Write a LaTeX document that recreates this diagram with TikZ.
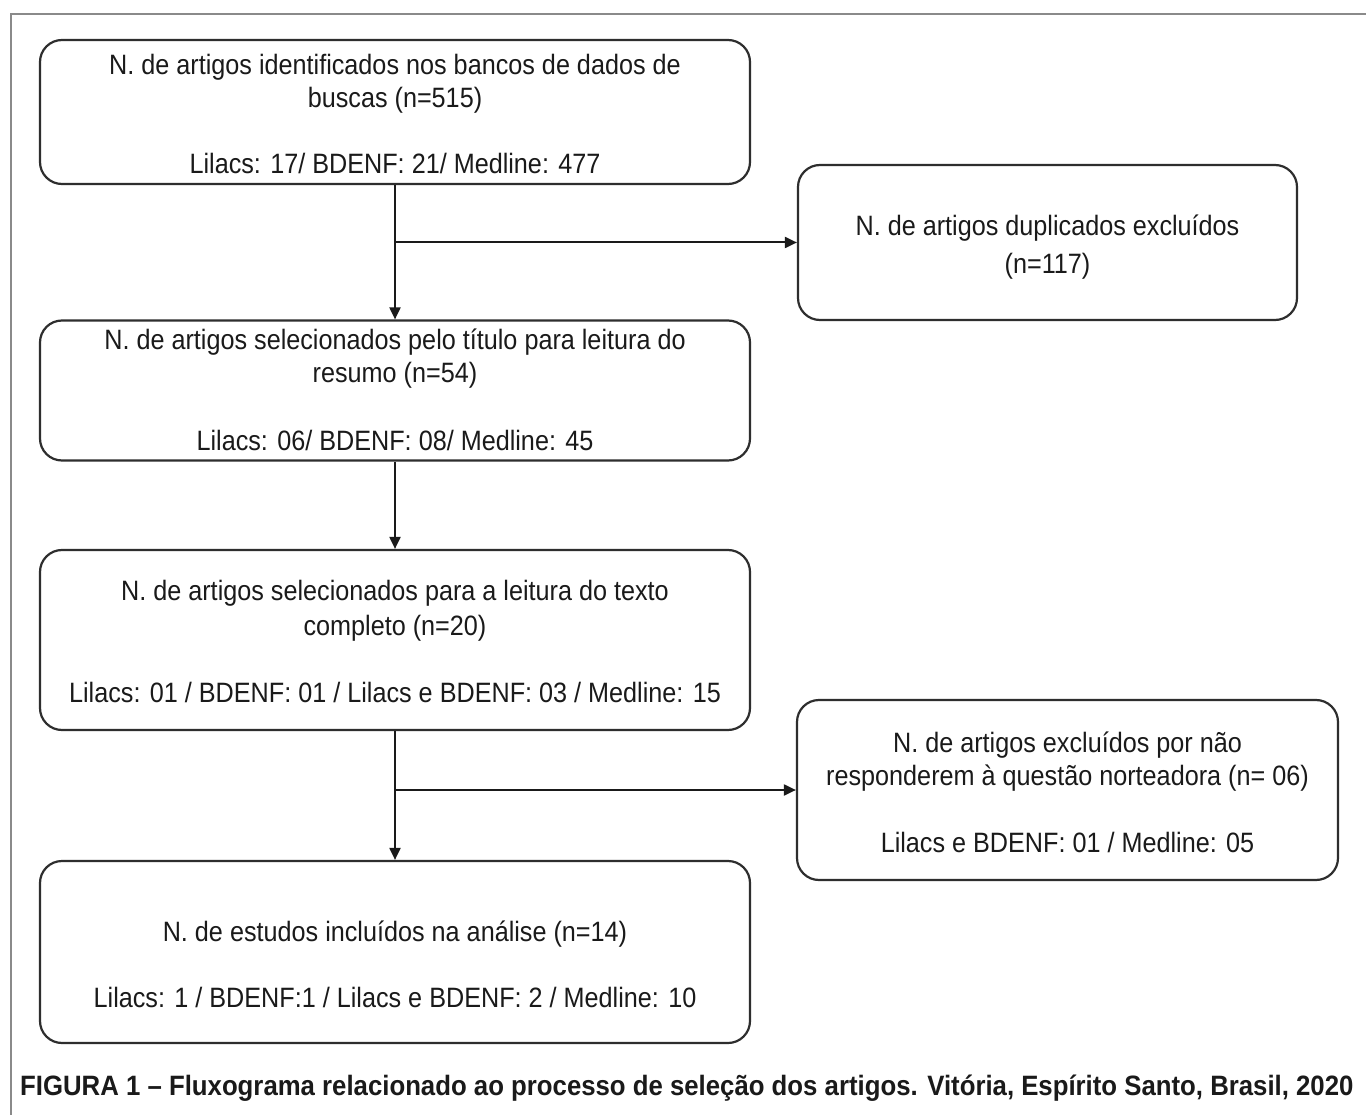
\documentclass[tikz,border=0pt]{standalone}
\usepackage{fontspec}
\setmainfont[FakeStretch=0.9]{Liberation Sans}
\newfontfamily\capfont[FakeStretch=0.92]{Liberation Sans}
\usetikzlibrary{arrows.meta}
\definecolor{framegray}{HTML}{8A8A8A}
\definecolor{boxline}{HTML}{2E2E2E}
\definecolor{txt}{HTML}{1A1A1A}
\tikzset{
  flowbox/.style={draw=boxline, line width=2.2pt, rounded corners=22pt, fill=white, inner sep=0pt},
  boxtext/.style={anchor=base, inner sep=0pt, text=txt, font=\fontsize{28}{32}\selectfont},
  captext/.style={anchor=base west, inner sep=0pt, text=txt, font=\capfont\fontsize{28}{32}\selectfont\bfseries},
  flowarrow/.style={draw=txt, line width=2pt, -{Triangle[length=12pt,width=11pt]}},
  frameline/.style={draw=framegray, line width=2pt}
}
\begin{document}
\begin{tikzpicture}[x=1pt,y=-1pt]
\useasboundingbox (0,0) rectangle (1366,1115);
\fill[white] (0,0) rectangle (1366,1115);
% frame
\coordinate (fa) at (11,1115);
\coordinate (fb) at (11,14);
\coordinate (fc) at (1366,14);
\draw[frameline] (fa) -- (fb) -- (fc);
% boxes
\node[flowbox, minimum width=710pt, minimum height=144pt] (b1) at (395,112) {};
\node[flowbox, minimum width=499pt, minimum height=155pt] (b2) at (1047.5,242.5) {};
\node[flowbox, minimum width=710pt, minimum height=140pt] (b3) at (395,390.5) {};
\node[flowbox, minimum width=710pt, minimum height=180pt] (b4) at (395,640) {};
\node[flowbox, minimum width=541pt, minimum height=180pt] (b5) at (1067.5,790) {};
\node[flowbox, minimum width=710pt, minimum height=182pt] (b6) at (395,952) {};
% texts
\node[boxtext] (t11) at (395,75) {N. de artigos identificados nos bancos de dados de};
\node[boxtext] (t12) at (395,108) {buscas (n=515)};
\node[boxtext] (t13) at (395,174) {Lilacs: 17/ BDENF: 21/ Medline: 477};
\node[boxtext] (t21) at (1047.5,236) {N. de artigos duplicados excluídos};
\node[boxtext] (t22) at (1047.5,274) {(n=117)};
\node[boxtext] (t31) at (395,350) {N. de artigos selecionados pelo título para leitura do};
\node[boxtext] (t32) at (395,383) {resumo (n=54)};
\node[boxtext] (t33) at (395,450) {Lilacs: 06/ BDENF: 08/ Medline: 45};
\node[boxtext] (t41) at (395,600) {N. de artigos selecionados para a leitura do texto};
\node[boxtext] (t42) at (395,635) {completo (n=20)};
\node[boxtext] (t43) at (395,702) {Lilacs: 01 / BDENF: 01 / Lilacs e BDENF: 03 / Medline: 15};
\node[boxtext] (t51) at (1067.5,752) {N. de artigos excluídos por não};
\node[boxtext] (t52) at (1067.5,785) {responderem à questão norteadora (n= 06)};
\node[boxtext] (t53) at (1067.5,852) {Lilacs e BDENF: 01 / Medline: 05};
\node[boxtext] (t61) at (395,941) {N. de estudos incluídos na análise (n=14)};
\node[boxtext] (t62) at (395,1007) {Lilacs: 1 / BDENF:1 / Lilacs e BDENF: 2 / Medline: 10};
% caption
\node[captext] (cap) at (20,1095) {FIGURA 1 – Fluxograma relacionado ao processo de seleção dos artigos. Vitória, Espírito Santo, Brasil, 2020};
% connectors
\coordinate (j1) at (b1.south |- b2.west);
\coordinate (j2) at (b4.south |- b5.west);
\draw[flowarrow] (b1.south) -- (b3.north);
\draw[flowarrow] (j1) -- (b2.west);
\draw[flowarrow] (b3.south) -- (b4.north);
\draw[flowarrow] (b4.south) -- (b6.north);
\draw[flowarrow] (j2) -- (b5.west);
\end{tikzpicture}
\end{document}
